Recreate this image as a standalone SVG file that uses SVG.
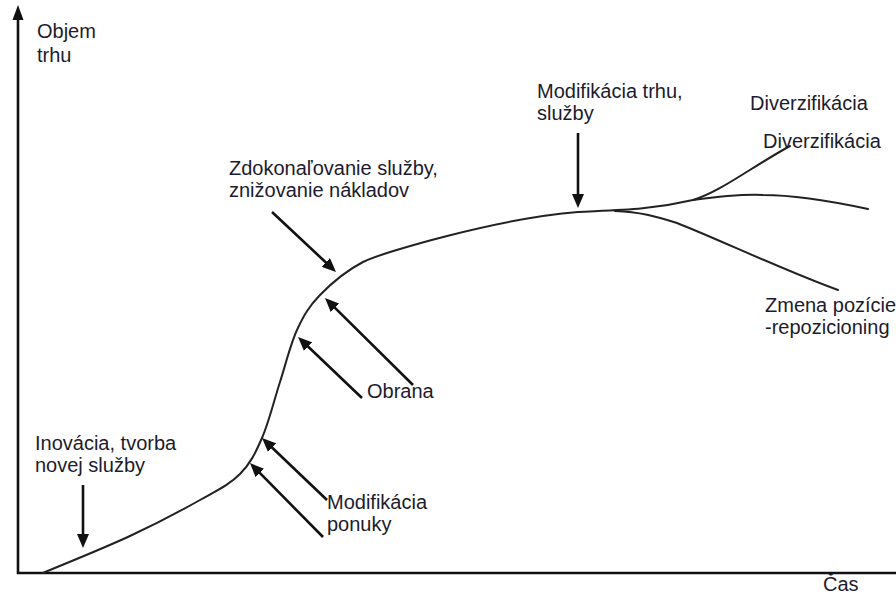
<svg xmlns="http://www.w3.org/2000/svg" width="896" height="596" viewBox="0 0 896 596">
  <style>
    text { font-family: "Liberation Sans", Arial, sans-serif; font-size: 20px; fill: #1c1c2e; }
    .axis { stroke: #111; stroke-width: 2.6; fill: none; }
    .curve { stroke: #222; stroke-width: 2; fill: none; stroke-linecap: round; stroke-linejoin: round; }
    .arrow { stroke: #111; stroke-width: 2.6; fill: none; marker-end: url(#head); }
  </style>
  <defs>
    <marker id="head" markerUnits="userSpaceOnUse" markerWidth="14" markerHeight="12" refX="6" refY="6" orient="auto">
      <path d="M0,0 L14,6 L0,12 z" fill="#111"/>
    </marker>
  </defs>

  <!-- axes -->
  <g id="axes">
    <line class="axis" x1="18" y1="574" x2="18" y2="18"/>
    <path d="M18,5 L12.5,20 L23.5,20 z" fill="#111"/>
    <line class="axis" x1="17" y1="573" x2="896" y2="573"/>
  </g>

  <!-- life-cycle curve with its three branches -->
  <g id="curve">
    <path class="curve" d="M43,573 C57.5,566.8 103.8,548.2 130,536 C156.2,523.8 181.7,510.3 200,500 C218.3,489.7 229.7,484.3 240,474 C250.3,463.7 255.3,453.3 262,438 C268.7,422.7 274.2,400 280,382 C285.8,364 290.3,344.5 297,330 C303.7,315.5 309,306.3 320,295 C331,283.7 344.7,271.5 363,262 C381.3,252.5 500,218 578,212 C620,210 650,210 693,200"/>
    <path class="curve" d="M693,200 C720,192 750,168 790,146"/>
    <path class="curve" d="M693,200 C715,197 740,194 763,195 C800,195 840,203 868,209"/>
    <path class="curve" d="M615,211 C640,212 655,216 677,223 C720,240 790,273 838,290"/>
  </g>

  <!-- pointer arrows -->
  <g id="connectors">
    <line class="arrow" x1="83" y1="485" x2="83" y2="540"/>
    <line class="arrow" x1="578" y1="133" x2="578" y2="200"/>
    <line class="arrow" x1="272" y1="212" x2="330.2" y2="266.5"/>
    <line class="arrow" x1="413" y1="385" x2="330.7" y2="303.6"/>
    <line class="arrow" x1="362" y1="398" x2="303.8" y2="342.5"/>
    <line class="arrow" x1="327" y1="500" x2="267.8" y2="443.5"/>
    <line class="arrow" x1="323" y1="537" x2="255.6" y2="468.7"/>
  </g>

  <!-- labels -->
  <g id="label-y"><text x="37" y="38">Objem</text><text x="37" y="62">trhu</text></g>
  <g id="label-x"><text x="823" y="591">Čas</text></g>
  <g id="label-inovacia"><text x="35" y="450">Inovácia, tvorba</text><text x="35" y="472">novej služby</text></g>
  <g id="label-modifikacia-ponuky"><text x="327" y="509">Modifikácia</text><text x="327" y="531">ponuky</text></g>
  <g id="label-obrana"><text x="367" y="398">Obrana</text></g>
  <g id="label-zdokonalovanie"><text x="229" y="175">Zdokonaľovanie služby,</text><text x="229" y="197">znižovanie nákladov</text></g>
  <g id="label-modifikacia-trhu"><text x="537" y="98">Modifikácia trhu,</text><text x="537" y="120">služby</text></g>
  <g id="label-diverzifikacia-1"><text x="750" y="110">Diverzifikácia</text></g>
  <g id="label-diverzifikacia-2"><text x="763" y="148">Diverzifikácia</text></g>
  <g id="label-zmena"><text x="765" y="312">Zmena pozície</text><text x="765" y="334">-repozicioning</text></g>
</svg>
